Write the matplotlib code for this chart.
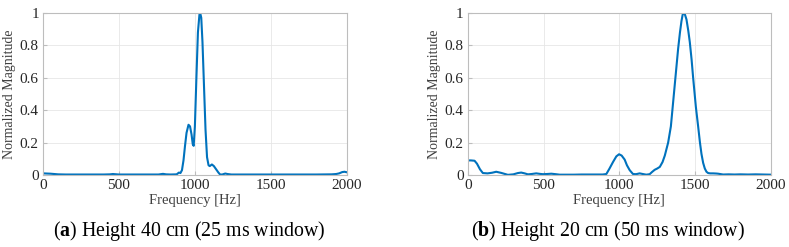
import matplotlib.pyplot as plt

# Panel (a): Height 40 cm, 25 ms window
freq_a = [0, 50, 100, 150, 200, 300, 400, 440, 460, 500, 600, 700, 760, 790, 810, 840,
          880, 895, 905, 915, 925, 935, 945, 958, 968, 978, 986, 992, 1000, 1010,
          1020, 1030, 1035, 1042, 1050, 1060, 1070, 1080, 1090, 1098, 1112, 1125,
          1140, 1155, 1166, 1180, 1200, 1215, 1240, 1300, 1400, 1500, 1600, 1700,
          1800, 1900, 1930, 1950, 1970, 1985, 2000]
mag_a = [0.01, 0.008, 0.004, 0.003, 0.003, 0.003, 0.003, 0.004, 0.006, 0.003, 0.003, 0.003,
         0.003, 0.007, 0.004, 0.003, 0.004, 0.015, 0.012, 0.03, 0.09, 0.18, 0.26, 0.31,
         0.30, 0.25, 0.19, 0.18, 0.30, 0.60, 0.88, 0.99, 1.0, 0.97, 0.82, 0.55, 0.28,
         0.11, 0.06, 0.055, 0.065, 0.055, 0.035, 0.015, 0.003, 0.003, 0.009, 0.006,
         0.003, 0.003, 0.003, 0.003, 0.003, 0.003, 0.003, 0.004, 0.006, 0.01, 0.018,
         0.02, 0.017]

# Panel (b): Height 20 cm, 50 ms window
freq_b = [0, 20, 44, 60, 80, 99, 130, 160, 187, 220, 264, 300, 330, 352, 375, 396, 420,
          451, 475, 495, 520, 551, 580, 606, 650, 700, 750, 800, 850, 890, 914, 935,
          958, 980, 998, 1015, 1035, 1050, 1068, 1090, 1110, 1134, 1155, 1178, 1200,
          1215, 1233, 1250, 1267, 1285, 1300, 1322, 1340, 1355, 1372, 1388, 1400, 1410,
          1418, 1425, 1433, 1443, 1455, 1465, 1477, 1487, 1505, 1520, 1532, 1542, 1553,
          1564, 1575, 1586, 1600, 1619, 1640, 1652, 1685, 1720, 1760, 1800, 1850,
          1900, 1950, 2000]
mag_b = [0.09, 0.09, 0.088, 0.07, 0.035, 0.012, 0.01, 0.014, 0.02, 0.013, 0.001, 0.004,
         0.012, 0.015, 0.01, 0.004, 0.006, 0.01, 0.007, 0.005, 0.006, 0.008, 0.005,
         0.002, 0.002, 0.002, 0.003, 0.003, 0.003, 0.003, 0.006, 0.04, 0.08, 0.115,
         0.128, 0.12, 0.095, 0.06, 0.03, 0.006, 0.005, 0.01, 0.006, 0.002, 0.005,
         0.018, 0.032, 0.04, 0.05, 0.08, 0.12, 0.2, 0.3, 0.45, 0.62, 0.78, 0.88, 0.95,
         0.99, 1.0, 0.99, 0.96, 0.89, 0.82, 0.71, 0.6, 0.42, 0.3, 0.2, 0.13, 0.075,
         0.04, 0.02, 0.012, 0.01, 0.01, 0.009, 0.008, 0.003, 0.004, 0.003, 0.004,
         0.003, 0.004, 0.003, 0.002]

xticks = [0, 500, 1000, 1500, 2000]
yticks = [0, 0.2, 0.4, 0.6, 0.8, 1]
ytick_labels = ['0', '0.2', '0.4', '0.6', '0.8', '1']
captions = [('a', ' Height 40 cm (25 ms window)'), ('b', ' Height 20 cm (50 ms window)')]

plt.rcParams['font.family'] = ['Liberation Serif', 'DejaVu Serif']
plt.rcParams['mathtext.fontset'] = 'custom'
plt.rcParams['mathtext.rm'] = 'Liberation Serif'
plt.rcParams['mathtext.bf'] = 'Liberation Serif:bold'

fig = plt.figure(figsize=(7.89, 2.47), dpi=100)
ax_a = fig.add_axes([0.0545, 0.2915, 0.385, 0.656])
ax_b = fig.add_axes([0.593, 0.2915, 0.384, 0.656])

for ax, f, m in [(ax_a, freq_a, mag_a), (ax_b, freq_b, mag_b)]:
    ax.plot(f, m, color='#0072BD', linewidth=1.5)
    ax.set_xlim(0, 2000)
    ax.set_ylim(0, 1)
    ax.set_xticks(xticks)
    ax.set_yticks(yticks)
    ax.set_yticklabels(ytick_labels)
    ax.grid(True, color='#e6e6e6', linewidth=0.6)
    ax.set_axisbelow(True)
    for s in ax.spines.values():
        s.set_color('#bdbdbd')
        s.set_linewidth(0.8)
    ax.tick_params(direction='in', length=3, color='#bdbdbd', labelsize=11,
                   labelcolor='#262626', pad=3)
    ax.set_xlabel('Frequency [Hz]', fontsize=10.5, color='#404040', labelpad=1)
    ax.set_ylabel('Normalized Magnitude', fontsize=10, color='#404040', labelpad=3)

for x, (letter, rest) in zip([0.24, 0.77], captions):
    fig.text(x, 0.065, r'($\mathbf{' + letter + r'}$)' + rest, ha='center', va='center',
             fontsize=14.3, color='black')

fig.savefig('out.png', dpi=100)
